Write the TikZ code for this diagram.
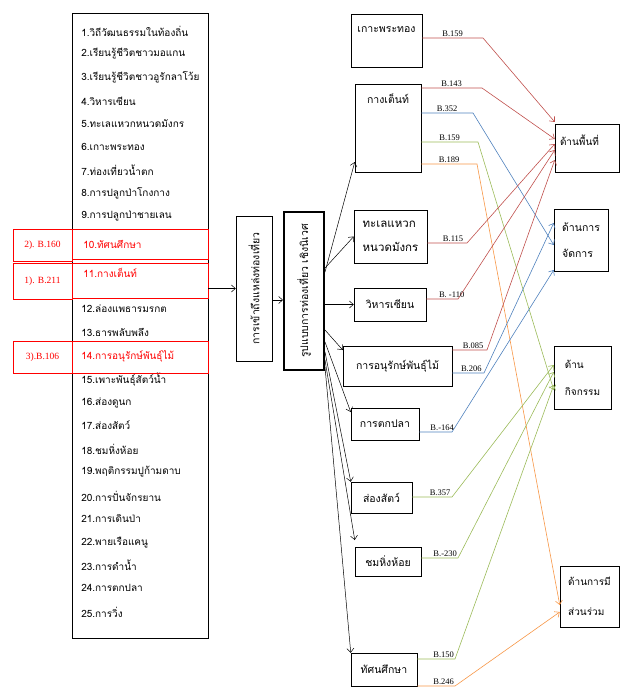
\documentclass[tikz,border=0pt]{standalone}
\usepackage{fontspec}
\usetikzlibrary{arrows.meta}
\setmainfont{Liberation Serif}
\newfontfamily\thaifont[Script=Thai]{Loma}
\definecolor{lnred}{RGB}{192,80,77}
\definecolor{lnblue}{RGB}{79,129,189}
\definecolor{lngreen}{RGB}{155,187,89}
\definecolor{lnorange}{RGB}{247,150,70}
\tikzset{
  box/.style={draw,rectangle,inner sep=2pt,font=\thaifont\fontsize{10.5}{12}\selectfont},
  dbox/.style={box,align=left,font=\thaifont\fontsize{10}{12}\selectfont},
  item/.style={anchor=west,inner sep=0pt,font=\thaifont\fontsize{10}{12}\selectfont},
  hot/.style={item,text=red},
  redlab/.style={draw=red,line width=0.7pt,text=red,inner sep=0pt,minimum width=59pt,font=\fontsize{9.5}{11}\selectfont},
  blab/.style={above=0pt,inner sep=1pt,font=\fontsize{8.5}{9}\selectfont},
  redln/.style={draw=lnred,->,line width=0.6pt},
  blueln/.style={draw=lnblue,->,line width=0.6pt},
  greenln/.style={draw=lngreen,->,line width=0.6pt},
  orangeln/.style={draw=lnorange,->,line width=0.6pt}
}
\begin{document}
\begin{tikzpicture}[x=1pt,y=-1pt,line width=0.5pt,>={Straight Barb[length=4pt,width=7pt]}]
  \useasboundingbox (0,0) rectangle (627,698);

  % list of activities
  \node[draw,minimum width=136pt,minimum height=625pt] at (140,325.5) (lst) {};
  \node[item] at (81,31) (i1) {1.วิถีวัฒนธรรมในท้องถิ่น};
  \node[item] at (81,54) (i2) {2.เรียนรู้ชีวิตชาวมอแกน};
  \node[item] at (81,77) (i3) {3.เรียนรู้ชีวิตชาวอูรักลาโว้ย};
  \node[item] at (81,101) (i4) {4.วิหารเซียน};
  \node[item] at (81,124) (i5) {5.ทะเลแหวกหนวดมังกร};
  \node[item] at (81,147) (i6) {6.เกาะพระทอง};
  \node[item] at (81,170) (i7) {7.ท่องเที่ยวน้ำตก};
  \node[item] at (81,193) (i8) {8.การปลูกป่าโกงกาง};
  \node[item] at (81,216) (i9) {9.การปลูกป่าชายเลน};
  \node[hot] at (83,244) (i10) {10.ทัศนศึกษา};
  \node[hot] at (83,273) (i11) {11.กางเต็นท์};
  \node[item] at (81,309) (i12) {12.ล่องแพธารมรกต};
  \node[item] at (81,332) (i13) {13.ธารพลับพลึง};
  \node[hot] at (81,356) (i14) {14.การอนุรักษ์พันธุ์ไม้};
  \node[item] at (81,380) (i15) {15.เพาะพันธุ์สัตว์น้ำ};
  \node[item] at (81,403) (i16) {16.ส่องดูนก};
  \node[item] at (81,425) (i17) {17.ส่องสัตว์};
  \node[item] at (81,449) (i18) {18.ชมหิ่งห้อย};
  \node[item] at (81,472) (i19) {19.พฤติกรรมปูก้ามดาบ};
  \node[item] at (81,496) (i20) {20.การปั่นจักรยาน};
  \node[item] at (81,519) (i21) {21.การเดินป่า};
  \node[item] at (81,543) (i22) {22.พายเรือแคนู};
  \node[item] at (81,565) (i23) {23.การดำน้ำ};
  \node[item] at (81,588) (i24) {24.การตกปลา};
  \node[item] at (81,612) (i25) {25.การวิ่ง};

  % red marks
  \node[redlab,minimum height=32pt] at (42.5,245) (r1) {2). B.160};
  \node[redlab,minimum height=36pt] at (42.5,281) (r2) {1). B.211};
  \node[redlab,minimum height=32pt] at (42.5,357) (r3) {3).B.106};
  \draw[red,line width=0.7pt] (72,229) rectangle (208,259);
  \draw[red,line width=0.7pt] (72,263) rectangle (208,298);
  \draw[red,line width=0.7pt] (72,341) rectangle (208,373);

  % vertical boxes
  \node[box,minimum width=36pt,minimum height=145pt] at (254,288.5) (acc) {\rotatebox{90}{การเข้าถึงแหล่งท่องเที่ยว}};
  \node[box,minimum width=40pt,minimum height=158pt,line width=2pt] at (304,291) (eco) {\rotatebox{90}{รูปแบบการท่องเที่ยว เชิงนิเวศ}};
  \draw[->] (lst.east |- acc.west) -- (acc.west);
  \draw[->] (acc.east |- 0,300) -- (eco.west |- 0,300);

  % middle column
  \node[box,minimum width=71pt,text height=17pt,text depth=32pt] at (386.5,40.5) (m1) {เกาะพระทอง};
  \node[box,minimum width=66pt,text height=17pt,text depth=67pt] at (388,128) (m2) {กางเต็นท์};
  \node[box,minimum width=73pt,minimum height=53pt,align=left,font=\thaifont\fontsize{11.5}{24}\selectfont] at (390.5,236.5) (m3) {ทะเลแหวก\\หนวดมังกร};
  \node[box,minimum width=72pt,minimum height=33pt] at (390,304.5) (m4) {วิหารเซียน};
  \node[box,minimum width=109pt,minimum height=40pt] at (397.5,366) (m5) {การอนุรักษ์พันธุ์ไม้};
  \node[box,minimum width=68pt,minimum height=32pt] at (385,424) (m6) {การตกปลา};
  \node[box,minimum width=61pt,minimum height=31pt] at (381.5,497.5) (m7) {ส่องสัตว์};
  \node[box,minimum width=66pt,minimum height=29pt] at (388,561.5) (m8) {ชมหิ่งห้อย};
  \node[box,minimum width=66pt,minimum height=33pt] at (384,669.5) (m9) {ทัศนศึกษา};

  \draw[->] (eco.east |- 0,272) -- (m2.west |- 0,162);
  \draw[->] (eco.east |- 0,268) -- (m3.west);
  \draw[->] (eco.east |- m4.west) -- (m4.west);
  \draw[->] (eco.east |- 0,330) -- (m5.west |- 0,350);
  \draw[->] (eco.east |- 0,342) -- (m6.west |- 0,412);
  \draw[->] (eco.east |- 0,352) -- (m7.north west);
  \draw[->] (eco.east |- 0,360) -- (m8.west |- 0,540);
  \draw[->] (eco.east |- 0,367) -- (m9.north west);

  % right column
  \node[dbox,text width=60pt,text height=19pt,text depth=25pt] at (587,148) (d1) {\hspace{3pt}ด้านพื้นที่};
  \node[dbox,minimum width=54pt,minimum height=62pt,font=\thaifont\fontsize{10.5}{26}\selectfont] at (581,240) (d2) {ด้านการ\\จัดการ};
  \node[dbox,minimum width=57pt,minimum height=63pt,font=\thaifont\fontsize{10}{27}\selectfont] at (582.5,377.5) (d3) {ด้าน\\กิจกรรม};
  \node[dbox,minimum width=59pt,minimum height=61pt,font=\thaifont\fontsize{10}{30}\selectfont] at (589.5,596.5) (d4) {ด้านการมี\\ส่วนร่วม};

  \draw[redln] (m1.east |- 0,38) -- node[blab] (b1) {B.159} (483,38) -- (d1.west |- 0,122);
  \draw[redln] (m2.east |- 0,88) -- node[blab] (b2) {B.143} (482,88) -- (d1.west |- 0,139);
  \draw[blueln] (m2.east |- 0,113) -- node[blab] (b3) {B.352} (473,113) -- (d2.west |- 0,245);
  \draw[greenln] (m2.east |- 0,142) -- node[blab] (b4) {B.159} (478,142) -- (d3.west |- 0,390);
  \draw[orangeln] (m2.east |- 0,164) -- node[blab] (b5) {B.189} (477,164) -- (d4.west |- 0,605);
  \draw[redln] (m3.east |- 0,243) -- node[blab,pos=.65] (b6) {B.115} (467,243) -- (d1.west |- 0,144);
  \draw[redln] (m4.east |- 0,299) -- node[blab,pos=.8] (b7) {B. -110} (458,299) -- (d1.west |- 0,150);
  \draw[redln] (m5.east |- 0,350) -- node[blab,pos=.6] (b8) {B.085} (487,350) -- (d1.west |- 0,160);
  \draw[blueln] (m5.east |- 0,373) -- node[blab,pos=.6] (b9) {B.206} (484,373) -- (d2.west |- 0,223);
  \draw[blueln] (m6.east |- 0,432) -- node[blab,pos=.7] (b10) {B.-164} (452,432) -- (d2.west |- 0,270);
  \draw[greenln] (m7.east |- 0,497) -- node[blab,pos=.7] (b11) {B.357} (452,497) -- (d3.west |- 0,365);
  \draw[greenln] (m8.east |- 0,558) -- node[blab,pos=.65] (b12) {B.-230} (458,558) -- (d3.west |- 0,372);
  \draw[greenln] (m9.east |- 0,659) -- node[blab,pos=.7] (b13) {B.150} (455,659) -- (d3.west |- 0,385);
  \draw[orangeln] (m9.east |- 0,686) -- node[blab,pos=.7] (b14) {B.246} (455,686) -- (d4.west |- 0,612);
\end{tikzpicture}
\end{document}
